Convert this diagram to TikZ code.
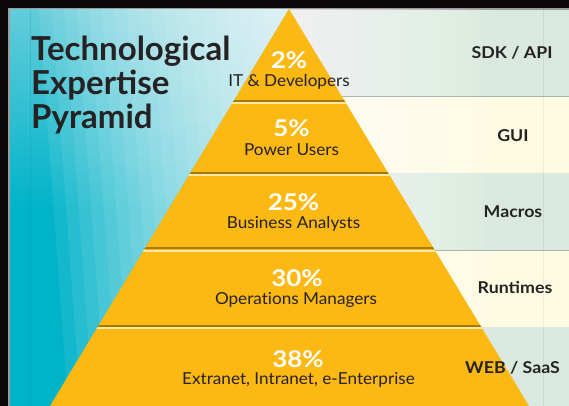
\documentclass[tikz,border=0pt]{standalone}
\usepackage{fontspec}
\setmainfont{Lato}
\newfontfamily\pctfont[FakeStretch=1.13]{Lato}
\newfontfamily\labfont[FakeStretch=1.04,Ligatures=CommonOff]{Lato}
\newfontfamily\toolfont[FakeStretch=1.09]{Lato}
\definecolor{teal0}{HTML}{00B3C9}
\definecolor{teallight}{HTML}{62CCDA}
\definecolor{pyr}{HTML}{FCB813}
\definecolor{sepdark}{HTML}{A67805}
\definecolor{seplight}{HTML}{FFE8A3}
\definecolor{rowgreen}{HTML}{D9E9DF}
\definecolor{rowcream}{HTML}{FEFBE3}
\definecolor{rowline}{HTML}{A9B5AF}
\definecolor{ink}{HTML}{262223}
\definecolor{framek}{HTML}{0C080A}
\definecolor{framegray}{HTML}{9C9C9C}
\tikzset{
  pct/.style={font=\pctfont\fontsize{23}{23}\selectfont\bfseries, text=white, anchor=base, inner sep=0pt},
  grp/.style={font=\labfont\fontsize{16.5}{17}\selectfont, text=ink, anchor=base, inner sep=0pt},
  tool/.style={font=\toolfont\fontsize{16.3}{16}\selectfont\bfseries, text=ink, anchor=base, inner sep=0pt},
  ttl/.style={font=\fontsize{33}{34}\selectfont\bfseries, text=ink, anchor=base west, inner sep=0pt},
  sepd/.style={draw=sepdark, line width=2pt},
  sepl/.style={draw=seplight, line width=2pt},
}
\begin{document}
\begin{tikzpicture}[x=1pt,y=-1pt]
\useasboundingbox (0,0) rectangle (569,406);
% frame
\fill[framek] (0,0) rectangle (569,406);
\fill[framegray] (8,8) rectangle (569,406);
% left background
\fill[teal0] (10,10) rectangle (289,406);
\shade[top color=teallight, bottom color=teal0] (10,10) rectangle (289,210);
\begin{scope}
  \clip (10,10) rectangle (289,406);
  \foreach \t in {0.05,0.10,...,1.01}{
    \fill[white, opacity=0.08] (289,9) -- ({289-250*\t},9) -- ({289-0.602*370*\t},{9+370*\t}) -- cycle;
  }
  \draw[teal0!70!black, opacity=0.18, line width=0.8pt] (30,10) -- (30,406);
\end{scope}
% right rows
\fill[rowgreen] (289,10) rectangle (569,97);
\fill[rowcream] (289,97) rectangle (569,173);
\fill[rowgreen] (289,173) rectangle (569,250);
\fill[rowcream] (289,250) rectangle (569,327);
\fill[rowgreen] (289,327) rectangle (569,406);
\begin{scope}
  \clip (289,10) rectangle (569,406);
  \foreach \t in {0.05,0.10,...,1.01}{
    \fill[white, opacity=0.06] (289,9) -- ({289+200*\t},9) -- ({289+0.605*340*\t},{9+340*\t}) -- cycle;
  }
\end{scope}
\draw[rowline, line width=1pt] (289,97) -- (569,97);
\draw[rowline, line width=1pt] (289,250) -- (569,250);
\draw[black, opacity=0.06, line width=0.8pt] (543,10) -- (543,406);
% pyramid
\fill[pyr] (289,9) -- (529,406) -- (50,406) -- cycle;
\begin{scope}
  \clip (289,9) -- (529,406) -- (50,406) -- cycle;
  \foreach \s in {101,173,248.3,326}{
    \draw[sepd] (0,\s) -- (569,\s);
    \draw[sepl] (0,{\s+2.3}) -- (569,{\s+2.3});
  }
\end{scope}
% title
\node[ttl] (title1) at (31,61) {Technological};
\node[ttl] (title2) at (31,95) {Expertise};
\node[ttl] (title3) at (31,129) {Pyramid};
% pyramid texts
\node[pct] (p1) at (289,69) {2\%};
\node[grp] (g1) at (289,87) {IT \& Developers};
\node[pct] (p2) at (291.5,137) {5\%};
\node[grp] (g2) at (291.5,155) {Power Users};
\node[pct] (p3) at (293.5,210) {25\%};
\node[grp] (g3) at (293.5,228) {Business Analysts};
\node[pct] (p4) at (297,286) {30\%};
\node[grp] (g4) at (296,304) {Operations Managers};
\node[pct] (p5) at (298,367) {38\%};
\node[grp] (g5) at (298.5,384) {Extranet, Intranet, e-Enterprise};
% right labels
\node[tool] (t1) at (512,59) {SDK / API};
\node[tool] (t2) at (513,142) {GUI};
\node[tool] (t3) at (513,217) {Macros};
\node[tool] (t4) at (515,293) {Runtimes};
\node[tool] (t5) at (512.5,373) {WEB / SaaS};
\end{tikzpicture}
\end{document}
